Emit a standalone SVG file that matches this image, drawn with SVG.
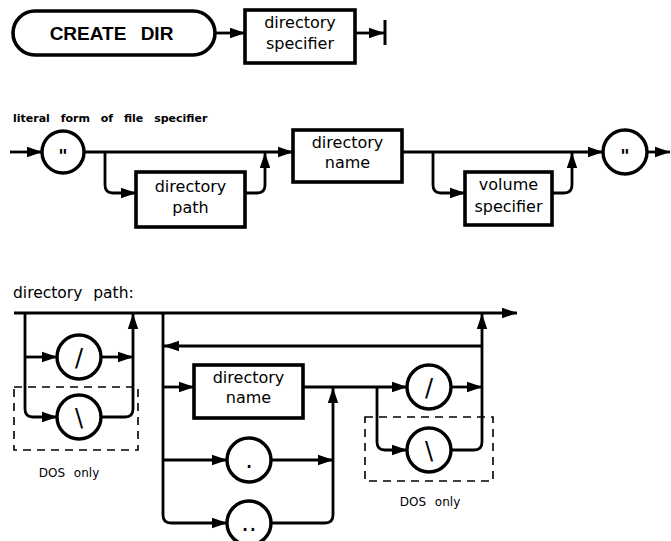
<svg xmlns="http://www.w3.org/2000/svg" width="671" height="541" viewBox="0 0 671 541">
<style>
.c{fill:none;stroke:#000;stroke-width:2.8}
.b{fill:#fff;stroke:#000;stroke-width:3.6}
.o{fill:#fff;stroke:#000;stroke-width:3.4}
.d{fill:none;stroke:#000;stroke-width:1.6;stroke-dasharray:8 6}
.t{font-family:"DejaVu Sans",sans-serif;font-size:16px;fill:#000;text-anchor:middle}
.s{font-family:"DejaVu Sans",sans-serif;font-size:12px;fill:#000;text-anchor:middle}
.g{font-family:"DejaVu Sans",sans-serif;font-size:24px;fill:#000;text-anchor:middle}
.q{font-family:"DejaVu Sans",sans-serif;font-weight:bold;font-size:18px;fill:#000;text-anchor:middle}
</style>
<defs>
<marker id="a" markerWidth="16" markerHeight="12" refX="15" refY="6" orient="auto" markerUnits="userSpaceOnUse"><path d="M0,0.8 L15.5,6 L0,11.2 z" fill="#000"/></marker>
</defs>
<rect width="671" height="541" fill="#fff"/>
<g id="connectors">
<path class="c" d="M215,33 H245" marker-end="url(#a)"/>
<path class="c" d="M355,33 H384" marker-end="url(#a)"/>
<path d="M385,20 V45" stroke="#000" stroke-width="3" fill="none"/>
<path class="c" d="M10,152 H42" marker-end="url(#a)"/>
<path class="c" d="M84,152 H293" marker-end="url(#a)"/>
<path class="c" d="M105,152 V185 Q105,193 113,193 H136" marker-end="url(#a)"/>
<path class="c" d="M245,193 H257 Q265,193 265,185 V153" marker-end="url(#a)"/>
<path class="c" d="M402,152 H603" marker-end="url(#a)"/>
<path class="c" d="M433,152 V185 Q433,193 441,193 H465" marker-end="url(#a)"/>
<path class="c" d="M552,193 H564 Q572,193 572,185 V153" marker-end="url(#a)"/>
<path class="c" d="M647,152 H670" marker-end="url(#a)"/>
<path class="c" d="M14,313 H517" marker-end="url(#a)"/>
<path class="c" d="M25,313 V409 Q25,417 33,417 H57" marker-end="url(#a)"/>
<path class="c" d="M25,357 H57" marker-end="url(#a)"/>
<path class="c" d="M101,357 H133" marker-end="url(#a)"/>
<path class="c" d="M101,417 H125 Q133,417 133,409 V314" marker-end="url(#a)"/>
<path class="c" d="M163,313 V515 Q163,523 171,523 H227" marker-end="url(#a)"/>
<path class="c" d="M163,387 H194" marker-end="url(#a)"/>
<path class="c" d="M163,460 H227" marker-end="url(#a)"/>
<path class="c" d="M271,460 H333" marker-end="url(#a)"/>
<path class="c" d="M271,523 H325 Q333,523 333,515 V388" marker-end="url(#a)"/>
<path class="c" d="M303,387 H407" marker-end="url(#a)"/>
<path class="c" d="M377,387 V442 Q377,450 385,450 H407" marker-end="url(#a)"/>
<path class="c" d="M451,387 H482" marker-end="url(#a)"/>
<path class="c" d="M451,450 H474 Q482,450 482,442 V314" marker-end="url(#a)"/>
<path class="c" d="M482,346 H164" marker-end="url(#a)"/>
</g>
<g id="create-dir">
<rect class="b" x="13" y="11" width="202" height="44" rx="22" ry="22" stroke-width="4"/>
<text x="88" y="40" font-family="Liberation Sans, sans-serif" font-weight="bold" font-size="19" text-anchor="middle">CREATE</text>
<text x="157" y="40" font-family="Liberation Sans, sans-serif" font-weight="bold" font-size="19" text-anchor="middle">DIR</text>
</g>
<g id="directory-specifier">
<rect class="b" x="245" y="10" width="110" height="53"/>
<text class="t" x="300" y="28">directory</text>
<text class="t" x="300" y="49">specifier</text>
</g>
<g id="literal-label">
<text x="13" y="122" font-family="DejaVu Sans, sans-serif" font-weight="bold" font-size="11" word-spacing="7">literal form of file specifier</text>
</g>
<g id="quote-open">
<circle class="o" cx="63" cy="152" r="21"/>
<text class="q" x="63" y="162">"</text>
</g>
<g id="directory-path">
<rect class="b" x="136" y="172" width="109" height="55"/>
<text class="t" x="190.5" y="192">directory</text>
<text class="t" x="190.5" y="213">path</text>
</g>
<g id="directory-name">
<rect class="b" x="293" y="130" width="109" height="52"/>
<text class="t" x="347.5" y="148">directory</text>
<text class="t" x="347.5" y="168">name</text>
</g>
<g id="volume-specifier">
<rect class="b" x="465" y="172" width="87" height="53"/>
<text class="t" x="508.5" y="190">volume</text>
<text class="t" x="508.5" y="212">specifier</text>
</g>
<g id="quote-close">
<circle class="o" cx="625" cy="152" r="22"/>
<text class="q" x="625" y="162">"</text>
</g>
<g id="path-label">
<text x="13" y="298" font-family="DejaVu Sans, sans-serif" font-size="15.5" word-spacing="6">directory path:</text>
</g>
<g id="slash1">
<circle class="o" cx="79" cy="357" r="22"/>
<text class="g" x="79" y="366">/</text>
</g>
<g id="backslash1">
<circle class="o" cx="79" cy="417" r="22"/>
<text class="g" x="79" y="426">\</text>
</g>
<g id="dos1">
<rect class="d" x="14" y="387" width="124" height="63"/>
<text class="s" x="69" y="477" word-spacing="5">DOS only</text>
</g>
<g id="directory-name2">
<rect class="b" x="194" y="365" width="109" height="53"/>
<text class="t" x="248.5" y="383">directory</text>
<text class="t" x="248.5" y="403">name</text>
</g>
<g id="dot">
<circle class="o" cx="249" cy="460" r="22"/>
<text class="g" x="249" y="468">.</text>
</g>
<g id="dotdot">
<circle class="o" cx="249" cy="523" r="22"/>
<text class="g" x="249" y="531">..</text>
</g>
<g id="slash2">
<circle class="o" cx="429" cy="387" r="22"/>
<text class="g" x="429" y="396">/</text>
</g>
<g id="backslash2">
<circle class="o" cx="429" cy="450" r="22"/>
<text class="g" x="429" y="459">\</text>
</g>
<g id="dos2">
<rect class="d" x="365" y="417" width="128" height="64"/>
<text class="s" x="430" y="506" word-spacing="5">DOS only</text>
</g>
</svg>
